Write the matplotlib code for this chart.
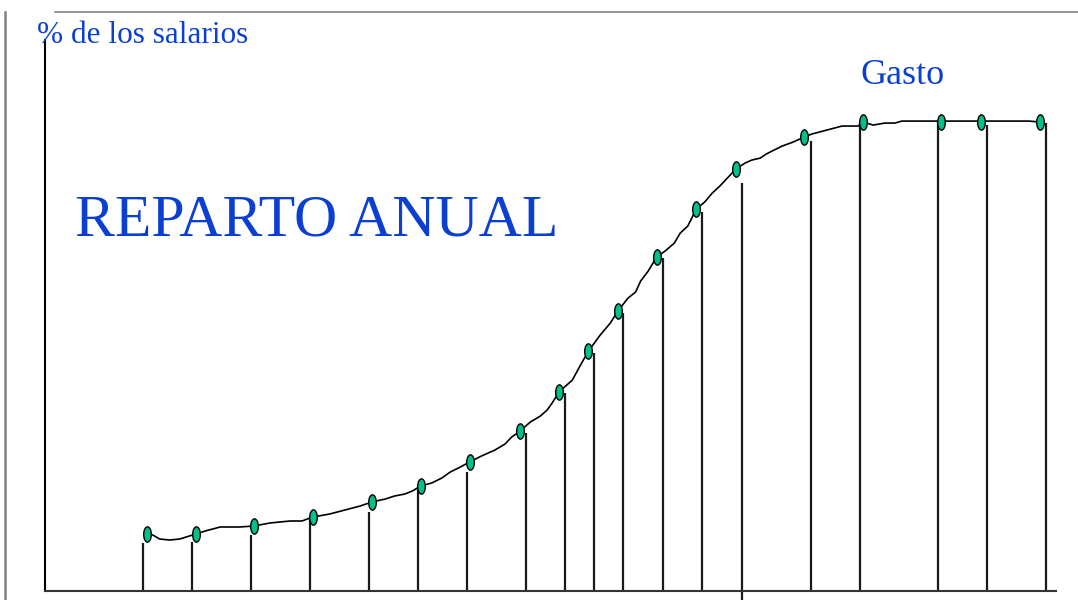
import matplotlib
matplotlib.use('Agg')
import matplotlib.pyplot as plt
from matplotlib.path import Path
from matplotlib.transforms import Affine2D
from matplotlib.lines import Line2D

# months along the year (0-12), % of annual salary spent
curve_x = [1.21, 1.28, 1.36, 1.48, 1.60, 1.79, 1.90, 2.08, 2.31, 2.48, 2.67, 2.91, 3.05, 3.18,
           3.38, 3.56, 3.74, 3.88, 4.04, 4.15, 4.27, 4.36, 4.46, 4.59, 4.71, 4.81, 4.93, 5.04,
           5.18, 5.34, 5.46, 5.54, 5.64, 5.76, 5.88, 5.96, 6.02, 6.10, 6.18, 6.26, 6.33, 6.45,
           6.59, 6.71, 6.80, 6.92, 7.01, 7.07, 7.16, 7.26, 7.36, 7.47, 7.54, 7.63, 7.73, 7.83,
           7.92, 8.01, 8.11, 8.20, 8.31, 8.39, 8.49, 8.56, 8.63, 8.75, 8.88, 9.01, 9.10, 9.46,
           9.65, 9.71, 9.83, 9.97, 10.09, 10.17, 11.68, 11.81, 11.88]
curve_y = [12.15, 11.94, 11.09, 10.87, 11.09, 12.15, 12.79, 13.65, 13.65, 13.86, 14.50, 14.93, 14.93, 15.78,
           16.42, 17.27, 18.12, 18.98, 19.62, 20.26, 20.68, 21.32, 22.39, 23.03, 24.09, 25.37, 26.44, 27.51,
           28.78, 30.06, 31.34, 32.84, 34.12, 36.03, 37.31, 38.59, 40.09, 42.43, 43.71, 44.99, 47.33, 51.17,
           54.58, 57.14, 59.70, 62.47, 63.75, 66.10, 68.23, 71.22, 72.49, 74.20, 76.33, 77.83, 81.45, 82.94,
           84.86, 86.35, 88.27, 89.98, 91.26, 91.90, 92.32, 93.18, 93.82, 94.88, 95.74, 96.80, 97.44, 99.15,
           99.15, 100.00, 99.36, 99.79, 99.79, 100.21, 100.21, 100.00, 99.57]

# payment points (markers)
pay_x = [1.21, 1.79, 2.48, 3.18, 3.88, 4.46, 5.04, 5.64, 6.10, 6.45,
         6.80, 7.26, 7.73, 8.20, 9.01, 9.71, 10.63, 11.11, 11.81]
pay_y = [12.15, 12.15, 13.86, 15.78, 18.98, 22.39, 27.51, 34.12, 42.43, 51.17,
         59.70, 71.22, 81.45, 89.98, 96.80, 100.00, 100.00, 100.00, 100.00]

# vertical stems
stem_x = [1.16, 1.74, 2.45, 3.15, 3.85, 4.43, 5.01, 5.71, 6.17, 6.52,
          6.86, 7.34, 7.80, 8.27, 9.09, 9.67, 10.60, 11.18, 11.88]
stem_top = [10.2, 10.4, 11.9, 15.8, 16.8, 22.2, 25.4, 33.7, 42.2, 50.7,
            59.3, 71.0, 80.8, 87.0, 96.0, 100.0, 100.0, 99.4, 99.8]
stem_bottom = [0, 0, 0, 0, 0, 0, 0, 0, 0, 0,
               0, 0, 0, -2.0, 0, 0, 0, 0, 0]

blue = '#0b3fd1'
serif = ['Liberation Serif', 'DejaVu Serif']

fig = plt.figure(figsize=(10.78, 6), dpi=100)
ax = fig.add_axes([45/1078, 9/600, 1011/1078, 551/600])
ax.set_xlim(0, 12)
ax.set_ylim(0, 117.5)
ax.set_xticks([])
ax.set_yticks([])
for s in ['top', 'right']:
	ax.spines[s].set_visible(False)
ax.spines['left'].set_color('black')
ax.spines['left'].set_linewidth(1.5)
ax.spines['bottom'].set_color('#333333')
ax.spines['bottom'].set_linewidth(1.5)

ax.vlines(stem_x, stem_bottom, stem_top, color='#1a1a1a', lw=1.6, zorder=2, clip_on=False)
ax.plot(curve_x, curve_y, color='black', lw=1.2, zorder=3)

# ellipse shaped marker
ell = Path.unit_circle().transformed(Affine2D().scale(0.5, 1.0))
ax.plot(pay_x, pay_y, ls='none', marker=ell, markersize=11, markerfacecolor='#00c08b',
		markeredgecolor='black', markeredgewidth=1.0, zorder=4, clip_on=False)

# slide frame lines
fig.add_artist(Line2D([5/1078, 5/1078], [0, 1 - 12/600], color='#808080', lw=1.8, transform=fig.transFigure))
fig.add_artist(Line2D([55/1078, 1], [1 - 12/600, 1 - 12/600], color='#808080', lw=1.2, transform=fig.transFigure))

fig.text(37/1078, 1 - 43/600, '% de los salarios', color=blue, fontsize=22.5, family=serif, va='baseline')
fig.text(860/1078, 1 - 84/600, 'Gasto', color=blue, fontsize=26, family=serif, va='baseline')
fig.text(75/1078, 1 - 236/600, 'REPARTO ANUAL', color=blue, fontsize=43, family=serif, va='baseline')

fig.savefig('out.png', dpi=100)
